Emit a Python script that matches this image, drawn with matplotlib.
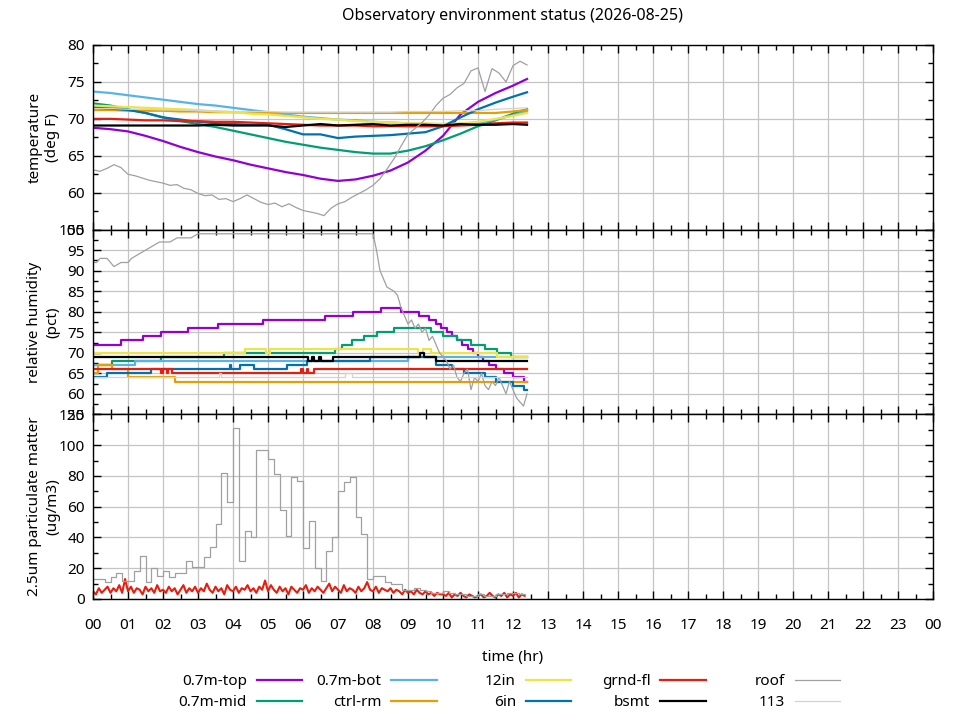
import numpy as np
import matplotlib
matplotlib.use('Agg')
import matplotlib.pyplot as plt
from matplotlib.lines import Line2D
from matplotlib.ticker import MultipleLocator, FixedLocator

plt.rcParams['font.family'] = ['Noto Sans', 'DejaVu Sans']

# ---------------- data ----------------
title = "Observatory environment status (2026-08-25)"
hour_labels = ["00", "01", "02", "03", "04", "05", "06", "07", "08", "09", "10", "11",
               "12", "13", "14", "15", "16", "17", "18", "19", "20", "21", "22", "23", "00"]

series_names = ["0.7m-top", "0.7m-mid", "0.7m-bot", "ctrl-rm", "12in", "6in",
                "grnd-fl", "bsmt", "roof", "113"]

# temperature (deg F), half-hour samples
temp_time = [0.0, 0.5, 1.0, 1.5, 2.0, 2.5, 3.0, 3.5, 4.0, 4.5, 5.0, 5.5, 6.0, 6.5,
             7.0, 7.5, 8.0, 8.5, 9.0, 9.5, 10.0, 10.5, 11.0, 11.5, 12.0, 12.4]
temp_top = [68.8, 68.6, 68.3, 67.7, 67.0, 66.2, 65.5, 64.9, 64.4, 63.8, 63.3, 62.8, 62.4,
            61.9, 61.6, 61.8, 62.3, 63.0, 64.1, 65.7, 67.7, 70.6, 72.3, 73.5, 74.5, 75.4]
temp_mid = [72.1, 71.8, 71.3, 70.8, 70.2, 69.7, 69.3, 68.9, 68.4, 67.9, 67.4, 66.9, 66.5,
            66.1, 65.8, 65.5, 65.3, 65.3, 65.7, 66.3, 67.1, 68.0, 69.0, 69.8, 70.7, 71.3]
temp_bot = [73.7, 73.5, 73.2, 72.9, 72.6, 72.3, 72.0, 71.8, 71.5, 71.2, 70.9, 70.6, 70.3,
            70.1, 69.9, 69.8, 69.6, 69.5, 69.4, 69.3, 69.3, 69.3, 69.4, 69.9, 70.5, 71.0]
temp_ctrl = [71.2, 71.2, 71.1, 71.1, 71.1, 71.0, 71.0, 70.9, 70.9, 70.9, 70.8, 70.8, 70.8,
             70.8, 70.8, 70.8, 70.8, 70.8, 70.8, 70.8, 70.8, 70.8, 70.8, 70.8, 71.0, 71.2]
temp_12in = [71.8, 71.7, 71.6, 71.5, 71.4, 71.3, 71.2, 71.0, 70.9, 70.7, 70.6, 70.4, 70.2,
             70.0, 69.9, 69.7, 69.6, 69.5, 69.4, 69.4, 69.3, 69.4, 69.6, 70.0, 70.4, 70.8]
temp_6in = [71.5, 71.4, 71.2, 70.8, 70.2, 69.9, 69.6, 69.4, 69.3, 69.2, 69.2, 68.6, 67.9,
            67.9, 67.4, 67.6, 67.7, 67.8, 68.0, 68.2, 69.0, 70.2, 71.3, 72.2, 73.0, 73.6]
temp_grnd = [70.0, 70.0, 69.9, 69.8, 69.8, 69.7, 69.7, 69.6, 69.6, 69.5, 69.4, 69.3, 69.2,
             69.1, 69.1, 69.1, 69.0, 69.0, 69.0, 69.0, 69.0, 69.1, 69.2, 69.4, 69.5, 69.5]
temp_bsmt = [69.1, 69.1, 69.1, 69.1, 69.1, 69.1, 69.1, 69.2, 69.1, 69.1, 69.1, 68.9, 69.1,
             69.3, 69.1, 69.2, 69.3, 69.1, 69.2, 69.2, 69.1, 69.3, 69.2, 69.2, 69.3, 69.2]
temp_113 = [71.4, 71.4, 71.3, 71.3, 71.2, 71.2, 71.1, 71.1, 71.0, 71.0, 71.0, 70.9, 70.9,
            70.9, 70.9, 70.9, 70.9, 70.9, 71.0, 71.0, 71.0, 71.1, 71.1, 71.3, 71.4, 71.5]

# roof temperature, 0.2 h samples
roof_temp_time = [round(0.2 * i, 1) for i in range(63)]
roof_temp = [63.1, 62.9, 63.3, 63.8, 63.4, 62.5, 62.3, 62.0, 61.7, 61.5,
             61.3, 61.0, 61.1, 60.6, 60.4, 59.9, 59.6, 59.7, 59.1, 59.2,
             58.8, 59.2, 59.7, 59.2, 58.7, 58.4, 58.6, 58.1, 58.5, 58.0,
             57.6, 57.4, 57.2, 56.9, 57.9, 58.5, 58.8, 59.4, 59.9, 60.4,
             61.0, 61.9, 63.2, 64.6, 66.3, 67.9, 68.7, 69.5, 70.5, 71.8,
             72.8, 73.3, 74.2, 74.8, 76.5, 76.9, 73.7, 76.8, 76.2, 75.0,
             77.2, 77.8, 77.3]

# relative humidity (pct), step changes: (time of change, value)
rh_top_t = [0, 0.81, 1.43, 1.95, 2.72, 3.57, 4.86, 6.62, 7.43, 8.24, 8.81, 9.3, 9.6, 9.8,
            9.95, 10.1, 10.25, 10.4, 10.55, 10.7, 10.85, 11.0, 11.15, 11.3, 11.5, 11.75,
            12.0, 12.3, 12.4]
rh_top_v = [72, 73, 74, 75, 76, 77, 78, 79, 80, 81, 80, 79, 78, 77, 76, 75, 74, 73, 72,
            71, 70, 69, 68, 67, 66, 65, 64, 63, 63]
rh_mid_t = [0, 0.53, 1.95, 3.75, 6.9, 7.1, 7.4, 7.75, 8.1, 8.6, 9.65, 10.0, 10.4, 10.8,
            11.2, 11.55, 11.95, 12.4]
rh_mid_v = [67, 68, 69, 70, 71, 72, 73, 74, 75, 76, 75, 74, 73, 72, 71, 70, 69, 69]
rh_bot_t = [0, 1.2, 9.0, 12.4]
rh_bot_v = [67, 68, 69, 69]
rh_ctrl_t = [0, 0.15, 0.54, 1.0, 2.35, 12.4]
rh_ctrl_v = [65, 67, 66, 64, 63, 63]
rh_12in_t = [0, 4.35, 4.95, 5.05, 9.28, 9.42, 9.65, 11.55, 12.4]
rh_12in_v = [70, 71, 70, 71, 70, 71, 70, 69, 69]
rh_6in_t = [0, 0.4, 1.65, 3.9, 3.95, 4.2, 4.6, 5.55, 6.1, 7.9, 9.8, 10.25, 10.6, 11.2,
            11.5, 12.0, 12.3, 12.4]
rh_6in_v = [64, 65, 66, 67, 66, 67, 66, 67, 68, 69, 67, 66, 65, 64, 63, 62, 61, 61]
rh_grnd_t = [0, 1.95, 2.0, 2.1, 2.15, 2.25, 5.95, 6.0, 6.1, 6.15, 6.3, 12.4]
rh_grnd_v = [66, 65, 66, 65, 66, 65, 66, 65, 66, 65, 66, 66]
rh_bsmt_t = [0, 6.15, 6.25, 6.3, 6.45, 6.5, 6.85, 9.35, 9.45, 9.8, 12.4]
rh_bsmt_v = [69, 68, 69, 68, 69, 68, 69, 70, 69, 68, 68]
rh_113_t = [0, 3.6, 3.65, 7.2, 7.4, 12.4]
rh_113_v = [64, 65, 64, 65, 64, 64]

rh_roof_t = [0.0, 0.1, 0.2, 0.4, 0.5, 0.6, 0.8, 1.0, 1.1, 1.3, 1.5, 1.7, 1.9, 2.2, 2.4,
             2.8, 3.0, 8.0, 8.1, 8.2, 8.3, 8.4, 8.6, 8.7, 8.8, 8.9, 9.0, 9.1, 9.2, 9.3,
             9.4, 9.5, 9.6, 9.7, 9.8, 9.9, 10.0, 10.1, 10.2, 10.3, 10.4, 10.5, 10.6, 10.7,
             10.8, 10.9, 11.0, 11.1, 11.2, 11.3, 11.4, 11.5, 11.6, 11.7, 11.8, 11.9, 12.0,
             12.1, 12.2, 12.3, 12.4]
rh_roof_v = [92, 92, 93, 93, 92, 91, 92, 92, 93, 94, 95, 96, 97, 97, 98,
             98, 99, 99, 95, 90, 88, 86, 85, 84, 81, 79, 77, 78, 76, 77,
             75, 76, 73, 74, 72, 70, 69, 68, 66, 67, 64, 63, 65, 66,
             61, 64, 63, 65, 62, 61, 63, 62, 64, 62, 60, 63, 61,
             59, 58, 57, 60]

# 2.5um particulate matter (ug/m3)
pm_roof_step = 1.0 / 6.0   # 10-minute readings
pm_roof = [13, 13, 11, 14, 17, 12, 12, 18, 28, 11, 20, 15, 18, 14, 17, 17, 25, 21, 21, 27,
           34, 49, 82, 63, 111, 25, 44, 40, 97, 97, 91, 81, 58, 41, 79, 77, 33, 51, 20, 12,
           31, 40, 70, 76, 79, 53, 42, 13, 15, 15, 11, 10, 10, 6, 6, 7, 6, 5, 4, 4,
           5, 4, 3, 3, 2, 2, 3, 2, 2, 3, 3, 4, 4, 3, 2]
pm_grnd_step = 1.0 / 12.0  # 5-minute readings
pm_grnd = [5, 3, 7, 4, 6, 8, 4, 7, 5, 9, 4, 13,
           5, 8, 4, 7, 6, 3, 8, 5, 7, 4, 9, 5,
           6, 4, 8, 5, 7, 3, 6, 9, 4, 7, 5, 8,
           4, 7, 5, 10, 6, 4, 8, 5, 7, 3, 9, 6,
           5, 8, 4, 7, 6, 9, 5, 7, 4, 8, 6, 12,
           5, 9, 6, 4, 8, 5, 7, 3, 8, 6, 4, 7,
           6, 9, 4, 7, 5, 8, 6, 4, 7, 10, 5, 8,
           6, 4, 9, 5, 7, 6, 4, 8, 5, 7, 11, 6,
           5, 8, 4, 7, 6, 5, 7, 4, 6, 5, 3, 6,
           4, 5, 3, 6, 4, 3, 5, 3, 4, 2, 4, 3,
           3, 2, 4, 1, 3, 2, 4, 2, 1, 3, 2, 1,
           2, 3, 1, 2, 4, 2, 1, 3, 2, 4, 1, 3,
           2, 4, 1, 3, 2]

colors = {"0.7m-top": "#9400d3", "0.7m-mid": "#009e73", "0.7m-bot": "#56b4e9",
          "ctrl-rm": "#e69f00", "12in": "#f0e442", "6in": "#0072b2",
          "grnd-fl": "#e51e10", "bsmt": "#000000", "roof": "#a0a0a0", "113": "#d3d3d3"}

# ---------------- figure ----------------
W, H = 960, 720
fig = plt.figure(figsize=(9.6, 7.2), dpi=100)
left, right, top, bottom = 93, 933, 45, 599
ph = (bottom - top) / 3.0
axes = []
for i in range(3):
    y0 = top + ph * (i + 1)
    ax = fig.add_axes([left / W, 1 - y0 / H, (right - left) / W, ph / H])
    axes.append(ax)
ax_t, ax_h, ax_p = axes

CLW = 1.6
GLW = 0.9

# temperature
for name, vals in [("0.7m-top", temp_top), ("0.7m-mid", temp_mid), ("0.7m-bot", temp_bot),
                   ("ctrl-rm", temp_ctrl), ("12in", temp_12in), ("6in", temp_6in),
                   ("grnd-fl", temp_grnd), ("bsmt", temp_bsmt)]:
    ax_t.plot(temp_time, vals, color=colors[name], lw=CLW)
ax_t.plot(roof_temp_time, roof_temp, color=colors["roof"], lw=GLW)
ax_t.plot(temp_time, temp_113, color=colors["113"], lw=GLW)

# humidity
for name, tt, vv in [("0.7m-top", rh_top_t, rh_top_v), ("0.7m-mid", rh_mid_t, rh_mid_v),
                     ("0.7m-bot", rh_bot_t, rh_bot_v), ("ctrl-rm", rh_ctrl_t, rh_ctrl_v),
                     ("12in", rh_12in_t, rh_12in_v), ("6in", rh_6in_t, rh_6in_v),
                     ("grnd-fl", rh_grnd_t, rh_grnd_v), ("bsmt", rh_bsmt_t, rh_bsmt_v)]:
    ax_h.plot(tt, vv, color=colors[name], lw=CLW, drawstyle='steps-post')
ax_h.plot(rh_roof_t, rh_roof_v, color=colors["roof"], lw=GLW)
ax_h.plot(rh_113_t, rh_113_v, color=colors["113"], lw=GLW, drawstyle='steps-post')

# particulate matter
pm_roof_t = np.arange(len(pm_roof)) * pm_roof_step
pm_grnd_t = np.arange(len(pm_grnd)) * pm_grnd_step
ax_p.plot(pm_grnd_t, pm_grnd, color=colors["grnd-fl"], lw=1.5)
ax_p.plot(pm_roof_t, pm_roof, color=colors["roof"], lw=GLW, drawstyle='steps-post')

# axes styling
limits = [(55, 80, 5, 2.5), (55, 100, 5, 2.5), (0, 120, 20, 10)]
ylabels = ["temperature\n(deg F)", "relative humidity\n(pct)", "2.5um particulate matter\n(ug/m3)"]
for ax, (lo, hi, maj, mnr), yl in zip(axes, limits, ylabels):
    ax.set_xlim(0, 24)
    ax.set_ylim(lo, hi)
    ax.xaxis.set_major_locator(FixedLocator(range(25)))
    ax.xaxis.set_minor_locator(MultipleLocator(0.5))
    ax.yaxis.set_major_locator(MultipleLocator(maj))
    ax.yaxis.set_minor_locator(MultipleLocator(mnr))
    ax.grid(True, which='major', color='#c4c4c4', lw=0.9)
    ax.set_axisbelow(True)
    ax.tick_params(which='both', direction='in', top=True, right=True, width=1.0,
                   labelsize=11, colors='black')
    ax.tick_params(which='major', length=6)
    ax.tick_params(which='minor', length=3.5)
    ax.tick_params(axis='y', pad=6)
    for s in ax.spines.values():
        s.set_linewidth(1.0)
        s.set_color('black')
    ax.set_ylabel(yl, fontsize=11, linespacing=1.25)
    ax.yaxis.set_label_coords(-0.039, 0.5)
    if ax is not ax_p:
        ax.tick_params(axis='x', labelbottom=False)

ax_p.set_xticklabels(hour_labels)
ax_p.tick_params(axis='x', pad=13.7)
ax_p.set_xlabel("time (hr)", fontsize=11, labelpad=12)

fig.suptitle(title, x=(left + right) / 2 / W, y=1 - 7.5 / H, va='top', fontsize=11.5)

# legend: five right-aligned columns, two rows each
col_right = [302, 436.5, 571, 705.5, 840]
for c in range(5):
    names = series_names[2 * c:2 * c + 2]
    handles = [Line2D([], [], color=colors[n],
                      lw=(GLW if n in ("roof", "113") else CLW)) for n in names]
    fig.legend(handles, names, loc='upper right',
               bbox_to_anchor=(col_right[c] / W, 1 - 674 / H),
               bbox_transform=fig.transFigure, frameon=False, markerfirst=False,
               borderpad=0, borderaxespad=0, handlelength=2.95, handletextpad=0.65,
               labelspacing=0.41, fontsize=11)

fig.savefig("out.png", dpi=100)
